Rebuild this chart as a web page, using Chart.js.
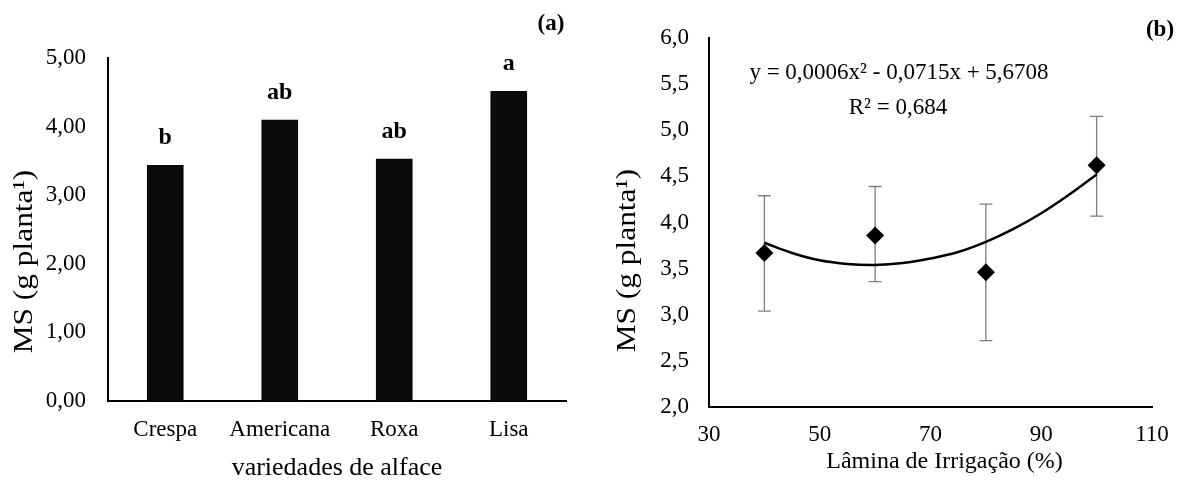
<!DOCTYPE html>
<html>
<head>
<meta charset="utf-8">
<script src="https://cdn.jsdelivr.net/npm/chart.js@4.4.1/dist/chart.umd.min.js"></script>
<style>
  html, body { margin:0; padding:0; background:#fff; }
  #wrap { position:relative; width:1186px; height:486px; overflow:hidden; }
  .pane { position:absolute; top:0; width:593px; height:486px; }
</style>
</head>
<body>
<div id="wrap">
  <div class="pane" style="left:0"><canvas id="ca" width="593" height="486"></canvas></div>
  <div class="pane" style="left:593px"><canvas id="cb" width="593" height="486"></canvas></div>
</div>
<script>
// ---- Panel (a) data ----
const categories = ['Crespa', 'Americana', 'Roxa', 'Lisa'];
const msValues = [3.44, 4.10, 3.53, 4.52];
const letters = ['b', 'ab', 'ab', 'a'];

// ---- Panel (b) data ----
const irrigation = [40, 60, 80, 100];
const msMeans = [3.67, 3.86, 3.46, 4.62];
const errUpper = [4.29, 4.39, 4.20, 5.15];
const errLower = [3.04, 3.36, 2.72, 4.07];
const trendX = [40, 45, 50, 55, 60, 65, 70, 75, 80, 85, 90, 95, 100];
const trendY = [3.78, 3.67, 3.59, 3.55, 3.54, 3.56, 3.61, 3.68, 3.79, 3.93, 4.10, 4.30, 4.52];

const equationText = 'y = 0,0006x² - 0,0715x + 5,6708';
const r2Text = 'R² = 0,684';

const FONT = "'Liberation Serif', 'Times New Roman', serif";
Chart.defaults.font.family = FONT;
Chart.defaults.color = '#000';
Chart.defaults.animation = false;

function drawText(ctx, txt, x, y, size, bold, rotate, stretch) {
  ctx.save();
  ctx.font = (bold ? 'bold ' : '') + size + 'px ' + FONT;
  ctx.fillStyle = '#000';
  ctx.textAlign = 'center';
  ctx.textBaseline = 'middle';
  ctx.translate(x, y);
  if (rotate) ctx.rotate(-Math.PI / 2);
  if (stretch) ctx.scale(stretch, 1);
  ctx.fillText(txt, 0, 0);
  ctx.restore();
}

// ---- Chart (a) ----
const annotA = {
  id: 'annotA',
  afterDatasetsDraw(chart) {
    const ctx = chart.ctx;
    const meta = chart.getDatasetMeta(0);
    meta.data.forEach((bar, i) => {
      drawText(ctx, letters[i], bar.x, bar.y - 27, 24, true, false);
    });
    const ca = chart.chartArea;
    drawText(ctx, 'variedades de alface', (ca.left + ca.right) / 2, 468, 26, false, false);
    drawText(ctx, 'MS (g planta¹)', 25, (ca.top + ca.bottom) / 2 + 32, 28, false, true, 1.12);
    drawText(ctx, '(a)', 551, 24, 23, true, false);
  }
};

new Chart(document.getElementById('ca'), {
  type: 'bar',
  data: {
    labels: categories,
    datasets: [{
      data: msValues,
      backgroundColor: '#0a0a0a',
      borderWidth: 0,
      barPercentage: 0.32,
      categoryPercentage: 1.0
    }]
  },
  options: {
    responsive: false,
    layout: { padding: { top: 58, right: 27, left: 0, bottom: 0 } },
    plugins: { legend: { display: false }, tooltip: { enabled: false } },
    scales: {
      x: {
        grid: { display: false, drawTicks: false },
        border: { display: true, color: '#000', width: 2 },
        ticks: { font: { size: 23 }, padding: 15, color: '#000' },
        afterFit(s) { s.height = 85; }
      },
      y: {
        min: 0, max: 5,
        grid: { display: false, drawTicks: false },
        border: { display: true, color: '#000', width: 2 },
        ticks: {
          stepSize: 1, font: { size: 23 }, padding: 22, color: '#000',
          callback: v => v.toFixed(2).replace('.', ',')
        },
        afterFit(s) { s.width = 108; }
      }
    }
  },
  plugins: [annotA]
});

// ---- Chart (b) ----
const annotB = {
  id: 'annotB',
  beforeDatasetsDraw(chart) {
    const ctx = chart.ctx;
    const xs = chart.scales.x, ys = chart.scales.y;
    ctx.save();
    ctx.strokeStyle = '#7f7f7f';
    ctx.lineWidth = 1.3;
    irrigation.forEach((xv, i) => {
      const px = xs.getPixelForValue(xv);
      const top = ys.getPixelForValue(errUpper[i]);
      const bot = ys.getPixelForValue(errLower[i]);
      ctx.beginPath();
      ctx.moveTo(px, top); ctx.lineTo(px, bot);
      ctx.moveTo(px - 6.5, top); ctx.lineTo(px + 6.5, top);
      ctx.moveTo(px - 6.5, bot); ctx.lineTo(px + 6.5, bot);
      ctx.stroke();
    });
    ctx.restore();
  },
  afterDraw(chart) {
    const ctx = chart.ctx;
    const ca = chart.chartArea;
    drawText(ctx, 'Lâmina de Irrigação (%)', (ca.left + ca.right) / 2 + 14, 462, 24, false, false);
    drawText(ctx, 'MS (g planta¹)', 35, (ca.top + ca.bottom) / 2 + 38, 28, false, true, 1.12);
    drawText(ctx, '(b)', 567, 30, 23, true, false);
    drawText(ctx, equationText, 306, 73, 23, false, false);
    drawText(ctx, r2Text, 305, 108, 23, false, false);
  }
};

new Chart(document.getElementById('cb'), {
  type: 'scatter',
  data: {
    datasets: [
      {
        data: trendX.map((x, i) => ({ x: x, y: trendY[i] })),
        showLine: true,
        borderColor: '#000',
        borderWidth: 2.5,
        pointRadius: 0,
        tension: 0.4,
        fill: false,
        order: 2
      },
      {
        data: irrigation.map((x, i) => ({ x: x, y: msMeans[i] })),
        pointStyle: 'rectRot',
        pointRadius: 9,
        backgroundColor: '#000',
        borderColor: '#000',
        borderWidth: 0,
        order: 1
      }
    ]
  },
  options: {
    responsive: false,
    layout: { padding: { top: 38, right: 34, left: 0, bottom: 0 } },
    plugins: { legend: { display: false }, tooltip: { enabled: false } },
    scales: {
      x: {
        type: 'linear', min: 30, max: 110,
        grid: { display: false, drawTicks: false },
        border: { display: true, color: '#000', width: 2 },
        ticks: { stepSize: 20, font: { size: 23 }, padding: 14, color: '#000' },
        afterFit(s) { s.height = 79; }
      },
      y: {
        min: 2, max: 6,
        grid: { display: false, drawTicks: false },
        border: { display: true, color: '#000', width: 2 },
        ticks: {
          stepSize: 0.5, font: { size: 23 }, padding: 20, color: '#000',
          callback: v => v.toFixed(1).replace('.', ',')
        },
        afterFit(s) { s.width = 116; }
      }
    }
  },
  plugins: [annotB]
});
</script>
</body>
</html>
